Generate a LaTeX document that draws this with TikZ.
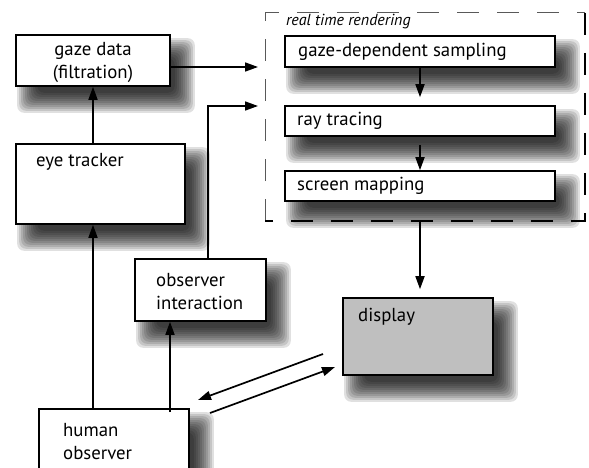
\documentclass[tikz,border=0pt]{standalone}
\usepackage{fontspec}
\setmainfont{PT Sans}
\usetikzlibrary{arrows.meta,backgrounds}
\newcommand\boxshadow[1]{%
  \foreach \e in {-9,-7,...,11} {%
    \fill[black,opacity=0.12,rounded corners=7pt]
      ([xshift={(13-\e)*1pt},yshift={(-15+\e)*1pt}]#1.north west) rectangle
      ([xshift={(13+\e)*1pt},yshift={(-15-\e)*1pt}]#1.south east);
  }%
}
\begin{document}
\begin{tikzpicture}[x=1pt,y=-1pt,
  box/.style={draw=black,line width=1.6pt,fill=white,inner sep=0pt},
  arr/.style={line width=1.7pt,-{Triangle[length=13pt,width=9pt]}},
  txt/.style={font=\fontsize{18.8}{23}\selectfont,align=left,inner sep=0pt,anchor=west},
  frameA/.style={draw=black!65,line width=1pt,dash pattern=on 22pt off 18pt},
  frameB/.style={draw=black,line width=1.6pt,dash pattern=on 22pt off 18pt}
]
\useasboundingbox (0,0) rectangle (589,468);
\clip (0,0) rectangle (589,468);

% boxes
\node[box,minimum width=154pt,minimum height=51pt] (gaze) at (93,60.5) {};
\node[font=\fontsize{18.8}{23}\selectfont,align=center,inner sep=0pt] (gazeT) at (93,62) {gaze data\\(filtration)};

\node[box,minimum width=169pt,minimum height=80pt] (eye) at (100.5,184) {};
\node[txt] (eyeT) at (36,162) {eye tracker};

\coordinate (frTL) at (265,13);
\coordinate (frBR) at (585,221);
\draw[frameA] (frTL |- frBR) -- (frTL) -- (frTL -| frBR);
\draw[frameB] (frTL -| frBR) -- (frBR) -- (frTL |- frBR);
\coordinate (frbot) at (420,221);
\node[font=\fontsize{16}{18}\selectfont\itshape,anchor=west,inner sep=0pt] (rtr) at (286,22) {real time rendering};

\node[box,minimum width=270pt,minimum height=31pt] (samp) at (420,51.5) {};
\node[txt] (sampT) at (298,52) {gaze-dependent sampling};
\node[box,minimum width=270pt,minimum height=30pt] (ray) at (420,121) {};
\node[txt] (rayT) at (297,121) {ray tracing};
\node[box,minimum width=270pt,minimum height=30pt] (scr) at (420,186) {};
\node[txt] (scrT) at (297,186) {screen mapping};

\node[box,fill=black!25,minimum width=150pt,minimum height=77pt] (disp) at (418,336.5) {};
\node[txt] (dispT) at (358,317) {display};

\node[box,minimum width=131pt,minimum height=62pt] (obs) at (200.5,290) {};
\node[txt] (obsT) at (156,291.5) {observer\\interaction};

\node[box,minimum width=150pt,minimum height=80pt] (hum) at (114,449) {};
\node[txt] (humT) at (63,441.5) {human\\observer};

\begin{scope}[on background layer]
  \boxshadow{gaze}
  \boxshadow{eye}
  \boxshadow{samp}
  \boxshadow{ray}
  \boxshadow{scr}
  \boxshadow{disp}
  \boxshadow{obs}
  \boxshadow{hum}
\end{scope}

% connectors
\coordinate (in1) at (258,67);
\coordinate (in2) at (258,106);
\draw[arr] (eye.north -| gaze.south) -- (gaze.south);
\draw[arr] (gaze.east |- in1) -- (in1);
\draw[arr] ([xshift=7.5pt]obs.north) |- (in2);
\draw[arr,shorten >=8pt] (samp.south) -- (ray.north);
\draw[arr,shorten <=8pt] (ray.south) -- (scr.north);
\draw[arr,shorten >=8pt] (frbot) -- (disp.north -| frbot);
\draw[arr] (hum.north -| gaze.south) -- (eye.south -| gaze.south);
\draw[arr] ([xshift=56pt,yshift=-4pt]hum.north) -- (obs.south -| 170,0);

\coordinate (d1) at (323,354);
\coordinate (h1) at (198,400);
\coordinate (h2) at (210,413);
\coordinate (d2) at (335,367);
\draw[arr] (d1) -- (h1);
\draw[arr] (h2) -- (d2);
\end{tikzpicture}
\end{document}
